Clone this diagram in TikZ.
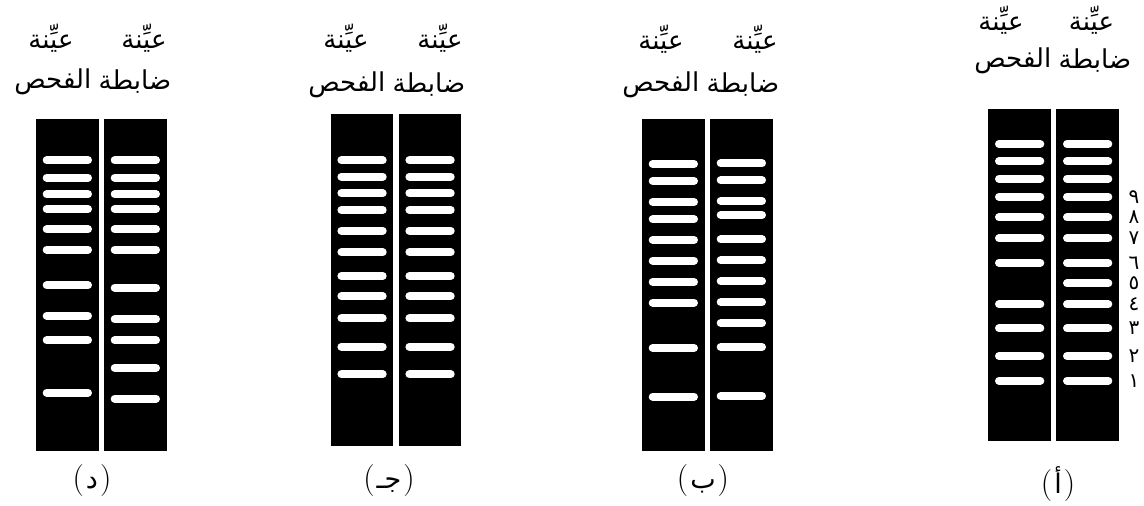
\documentclass[tikz,border=0pt]{standalone}
\usepackage{fontspec}
\newfontfamily\arabicfont[Script=Arabic]{DejaVu Sans}
\TeXXeTstate=1
\tikzset{
  lane/.style={fill=black, inner sep=0pt, minimum width=62.5pt, minimum height=332pt},
  band/.style={draw=white, line width=8pt, line cap=round},
  lbl/.style={inner sep=0pt, font=\arabicfont\fontsize{26}{30}\selectfont},
  num/.style={inner sep=0pt, font=\arabicfont\fontsize{20}{22}\selectfont},
  panellbl/.style={inner sep=0pt, font=\fontsize{32}{36}\selectfont},
}
\newcommand\plet[1]{\kern2pt{\arabicfont\fontsize{27}{30}\selectfont #1}\kern2pt}
\newcommand\gelpanel[5]{% #1 name, #2 left x, #3 top y, #4 left bands, #5 right bands
  \node[lane] (#1L) at ({#2+31.25},{#3+166}) {};
  \node[lane] (#1R) at ({#2+68+31.25},{#3+166}) {};
  \foreach \yy in {#4} \draw[band] ({#2+10.7},\yy) -- ({#2+52},\yy);
  \foreach \yy in {#5} \draw[band] ({#2+78.7},\yy) -- ({#2+120},\yy);
}
% second label line: "الفحص" (left lane) and "ضابطة" (right lane) meeting at x
\newcommand\secline[3]{% #1 name, #2 x of word gap, #3 y
  \node[lbl, anchor=east] (#1t) at ({#2-3.5},#3) {الفحص};
  \node[lbl, anchor=west] (#1c) at ({#2+3.5},#3) {ضابطة};
}
\begin{document}
\begin{tikzpicture}[x=1pt,y=-1pt]
\useasboundingbox[fill=white] (0,0) rectangle (1144,506);

% panel d
\gelpanel{d}{36}{119}{160.3,177.7,194.3,209,229.3,249.7,285.3,315.7,340.3,392.7}{160.3,177.7,194.3,209,229.3,249.7,287.7,319.3,340.3,368,398.7}
\node[lbl] (d1) at (51,38) {عيِّنة};
\node[lbl] (d2) at (144,38) {عيِّنة};
\secline{d}{95}{82}
\node[panellbl] (d4) at (92,481) {(\plet{د})};

% panel j
\gelpanel{j}{330.7}{114.3}{160.3,176.7,193.3,210,230.7,252.3,276,296.3,318.3,346.7,374.3}{160.3,176.7,193.3,210,230.7,252.3,276,296.3,318.3,346.7,374.3}
\node[lbl] (j1) at (346,38) {عيِّنة};
\node[lbl] (j2) at (440,38) {عيِّنة};
\secline{j}{389}{85}
\node[panellbl] (j4) at (389,481) {(\plet{جـ})};

% panel b
\gelpanel{b}{642}{119}{164,181,202,219.3,240,260.7,282,302.7,348,396.7}{163.3,180.3,201,215,239.3,260.3,281.3,302,323,347,396}
\node[lbl] (b1) at (661,39) {عيِّنة};
\node[lbl] (b2) at (755,39) {عيِّنة};
\secline{b}{703}{85}
\node[panellbl] (b4) at (703,481) {(\plet{ب})};

% panel a
\gelpanel{a}{988.3}{109}{144,161.3,178.7,196.7,217.3,238.3,262.7,304.3,328.3,356,380.7}{144,161.3,178.7,196.7,217.3,238.3,262.7,283.3,304.3,328.3,356,380.7}
\node[lbl] (a1) at (1001,20) {عيِّنة};
\node[lbl] (a2) at (1091.5,20) {عيِّنة};
\secline{a}{1055}{61}
\node[panellbl] (a4) at (1058,484) {(\plet{أ})};

% numbers
\foreach \y/\n [count=\i] in {196.7/٩,217.3/٨,238.3/٧,262.7/٦,283.3/٥,304.3/٤,328.3/٣,356/٢,380.7/١}
  \node[num] (n\i) at (1134,\y) {\n};
\end{tikzpicture}
\end{document}
